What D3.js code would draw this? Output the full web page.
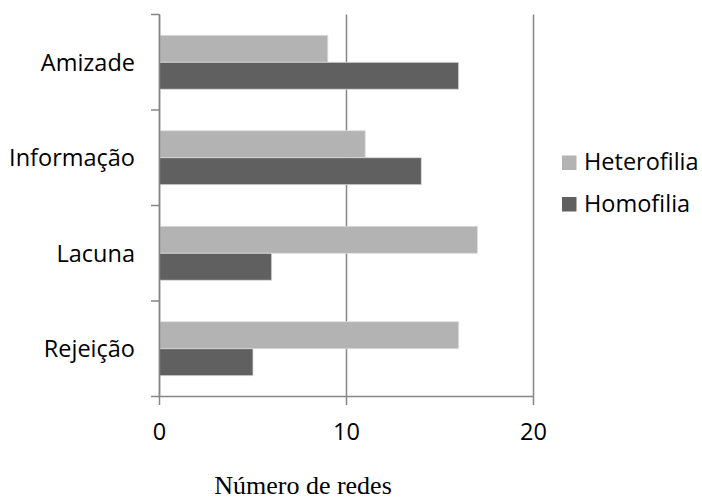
<!DOCTYPE html>
<html lang="pt">
<head>
  <meta charset="UTF-8">
  <title>Número de redes</title>
  <script src="https://d3js.org/d3.v7.min.js"></script>
  <style>
    body {
      margin: 0;
      background: white;
    }
    text {
      font-family: "Open Sans", sans-serif;
      font-size: 23.5px;
      fill: #000;
    }
    .axis-title {
      font-family: "Liberation Serif", "Times New Roman", serif;
      font-size: 26px;
    }
  </style>
</head>
<body>
  <div id="chart"></div>
  <script>
    // data
    const categories = ["Amizade", "Informação", "Lacuna", "Rejeição"];
    const seriesNames = ["Heterofilia", "Homofilia"];
    const heterofilia = [9, 11, 17, 16];
    const homofilia = [16, 14, 6, 5];
    const xTicks = [0, 10, 20];
    const colors = ["#b3b3b3", "#606060"];

    const width = 702, height = 501;
    const plotLeft = 159.5, plotRight = 533.5, plotTop = 14.5, plotBottom = 396.5;

    const rows = categories.map((c, i) => ({
      cat: c,
      values: [heterofilia[i], homofilia[i]]
    }));

    const svg = d3.select("#chart").append("svg")
      .attr("width", width)
      .attr("height", height);

    const x = d3.scaleLinear().domain([0, 20]).range([plotLeft, plotRight]);

    const y = d3.scaleBand()
      .domain(categories)
      .range([plotTop, plotBottom])
      .paddingInner(0.435)
      .paddingOuter(0.2175);

    const ySub = d3.scaleBand()
      .domain(seriesNames)
      .range([0, y.bandwidth()]);

    const axisColor = "#868686";

    // vertical gridlines (they run on past the axis as ticks)
    svg.append("g")
      .selectAll("line")
      .data(xTicks)
      .join("line")
      .attr("x1", d => x(d))
      .attr("x2", d => x(d))
      .attr("y1", plotTop)
      .attr("y2", plotBottom + 8.5)
      .attr("stroke", axisColor)
      .attr("stroke-width", 1.5);

    // bars
    const group = svg.append("g")
      .selectAll("g")
      .data(rows)
      .join("g")
      .attr("transform", d => `translate(0,${y(d.cat)})`);

    group.selectAll("rect")
      .data(d => d.values.map((v, i) => ({ name: seriesNames[i], value: v, i })))
      .join("rect")
      .attr("x", x(0))
      .attr("y", d => ySub(d.name))
      .attr("width", d => x(d.value) - x(0))
      .attr("height", ySub.bandwidth())
      .attr("fill", d => colors[d.i])
      .attr("stroke", "#dcdcdc")
      .attr("stroke-width", 0.8);

    // y axis line + category ticks
    svg.append("line")
      .attr("x1", plotLeft).attr("x2", plotLeft)
      .attr("y1", plotTop).attr("y2", plotBottom)
      .attr("stroke", axisColor)
      .attr("stroke-width", 1.5);

    const catEdges = categories.map(c => y(c) - y.step() * y.paddingOuter()).concat([plotBottom]);
    svg.append("g")
      .selectAll("line")
      .data(catEdges)
      .join("line")
      .attr("x1", plotLeft - 8.5)
      .attr("x2", plotLeft)
      .attr("y1", d => d)
      .attr("y2", d => d)
      .attr("stroke", axisColor)
      .attr("stroke-width", 1.5);

    // x axis line
    svg.append("line")
      .attr("x1", plotLeft)
      .attr("x2", plotRight)
      .attr("y1", plotBottom)
      .attr("y2", plotBottom)
      .attr("stroke", axisColor)
      .attr("stroke-width", 1.5);

    // category labels
    svg.append("g")
      .selectAll("text")
      .data(categories)
      .join("text")
      .attr("x", 135)
      .attr("y", d => y(d) + y.bandwidth() / 2)
      .attr("dy", "0.36em")
      .attr("text-anchor", "end")
      .text(d => d);

    // x tick labels
    svg.append("g")
      .selectAll("text")
      .data(xTicks)
      .join("text")
      .attr("x", d => x(d))
      .attr("y", 440)
      .attr("text-anchor", "middle")
      .text(d => d);

    svg.append("text")
      .attr("class", "axis-title")
      .attr("x", 303)
      .attr("y", 494)
      .attr("text-anchor", "middle")
      .text("Número de redes");

    // legend
    const legend = svg.append("g")
      .selectAll("g")
      .data(seriesNames)
      .join("g")
      .attr("transform", (d, i) => `translate(562,${170 + i * 41.5})`);

    legend.append("rect")
      .attr("x", 0)
      .attr("y", -14.5)
      .attr("width", 14.5)
      .attr("height", 14.5)
      .attr("fill", (d, i) => colors[i]);

    legend.append("text")
      .attr("x", 22)
      .attr("y", 0)
      .text(d => d);
  </script>
</body>
</html>
